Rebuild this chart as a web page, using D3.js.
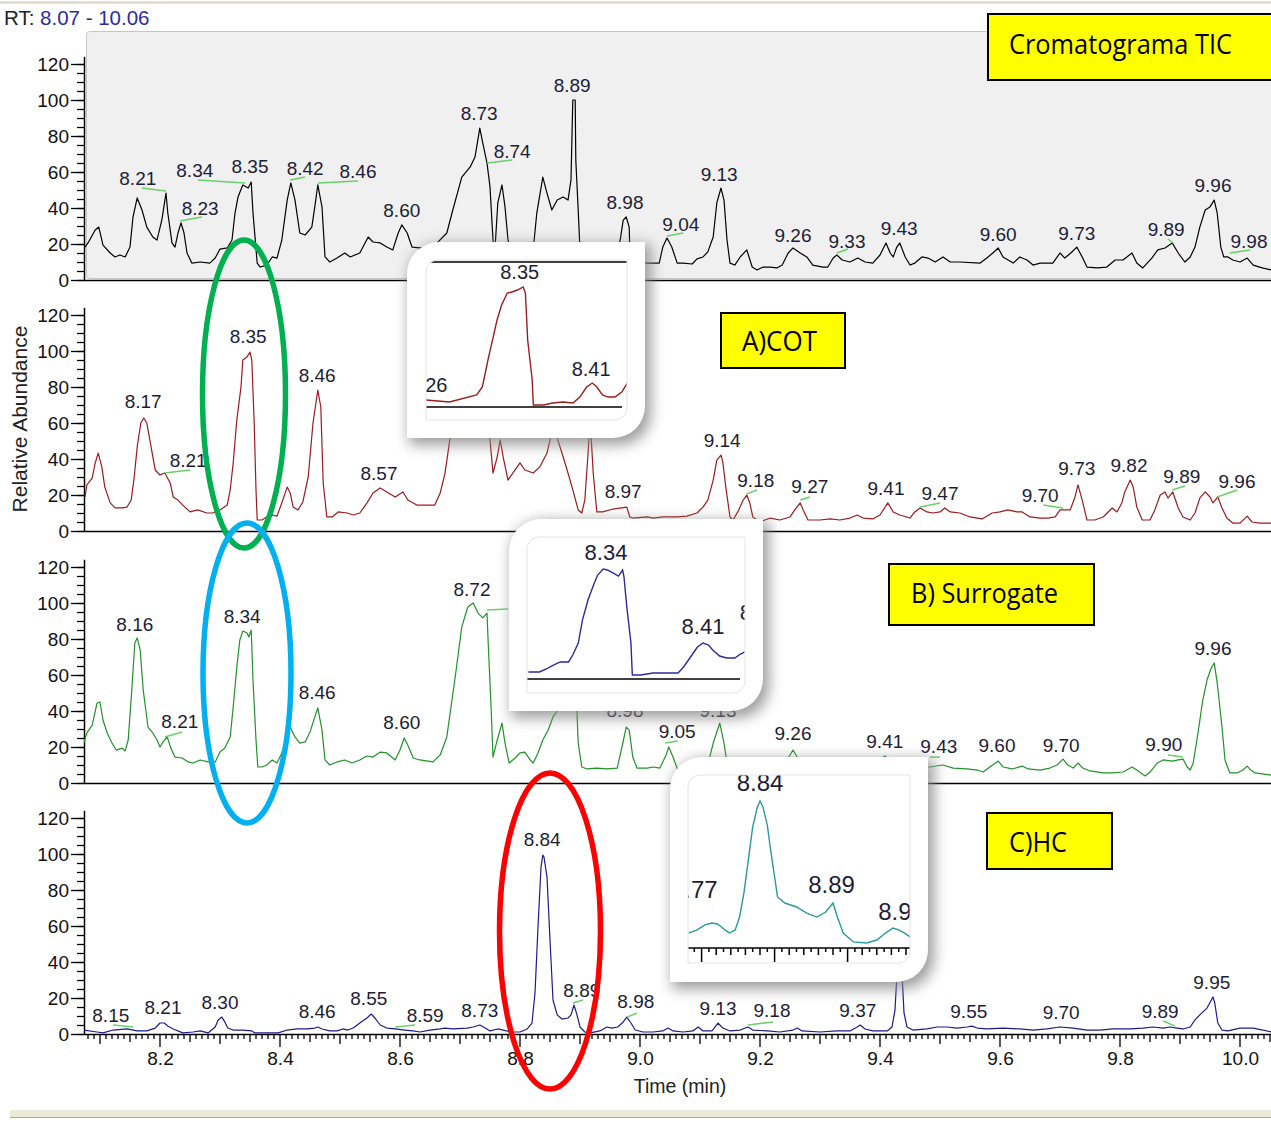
<!DOCTYPE html>
<html>
<head>
<meta charset="utf-8">
<script src="https://cdn.jsdelivr.net/npm/d3@7"></script>
<style>
  body { margin: 0; background: #fff; }
  svg { display: block; }
  text { font-family: "Liberation Sans", Arial, sans-serif; }
  .box-text { font-family: "Open Sans", "Noto Sans", sans-serif; }
</style>
</head>
<body>
<div id="chart"></div>
<script>
// ---------- data: [time (min), relative abundance] ----------
var ticTrace = [[8.075,18.3],[8.080,20.6],[8.092,27.8],[8.098,29.4],[8.105,19.4],[8.117,15.0],[8.125,12.8],[8.133,13.9],[8.142,12.8],[8.150,18.3],[8.155,35.0],[8.162,45.6],[8.170,38.9],[8.178,29.4],[8.188,23.9],[8.195,22.2],[8.203,33.3],[8.210,48.3],[8.213,37.2],[8.220,20.6],[8.225,18.3],[8.230,26.1],[8.235,31.7],[8.240,26.1],[8.245,15.0],[8.253,9.4],[8.267,10.0],[8.283,9.4],[8.292,12.2],[8.300,17.2],[8.312,17.8],[8.320,22.2],[8.325,37.2],[8.330,46.1],[8.338,52.8],[8.347,51.1],[8.352,54.4],[8.355,37.2],[8.362,9.4],[8.367,7.2],[8.378,8.3],[8.387,12.8],[8.395,12.2],[8.403,22.2],[8.412,44.4],[8.418,53.9],[8.425,44.4],[8.433,26.1],[8.442,25.0],[8.453,29.4],[8.458,40.6],[8.463,52.8],[8.470,40.6],[8.475,12.8],[8.483,10.0],[8.495,12.2],[8.508,15.0],[8.517,12.8],[8.533,15.0],[8.547,23.9],[8.555,21.1],[8.567,20.6],[8.578,18.3],[8.588,16.7],[8.597,26.1],[8.603,30.6],[8.612,26.1],[8.620,18.3],[8.633,17.8],[8.655,18.3],[8.678,26.1],[8.688,38.9],[8.703,57.2],[8.717,62.8],[8.725,68.3],[8.733,84.4],[8.738,76.1],[8.745,65.0],[8.750,51.7],[8.755,22.2],[8.758,15.5],[8.763,42.8],[8.770,52.8],[8.775,40.6],[8.780,22.2],[8.788,14.0],[8.808,12.0],[8.822,16.7],[8.828,37.2],[8.838,57.2],[8.845,48.3],[8.853,38.9],[8.862,44.4],[8.872,46.1],[8.880,44.4],[8.885,55.6],[8.888,100],[8.892,100],[8.893,66.7],[8.897,38.9],[8.900,16.7],[8.917,12.0],[8.942,10.0],[8.958,14.0],[8.967,22.2],[8.972,33.3],[8.977,35.0],[8.982,29.4],[8.983,16.7],[8.995,10.0],[9.012,9.4],[9.032,9.4],[9.038,18.3],[9.045,23.3],[9.053,18.3],[9.062,9.4],[9.072,9.4],[9.087,8.9],[9.095,11.7],[9.105,12.8],[9.113,15.6],[9.122,23.9],[9.128,42.8],[9.135,51.1],[9.140,44.4],[9.145,22.2],[9.150,9.4],[9.158,8.3],[9.167,12.8],[9.178,16.7],[9.187,7.2],[9.195,5.6],[9.205,7.2],[9.217,7.2],[9.228,6.7],[9.237,8.3],[9.247,15.0],[9.255,17.8],[9.267,15.0],[9.278,12.8],[9.288,8.3],[9.305,7.2],[9.313,7.2],[9.322,12.2],[9.328,13.9],[9.337,11.1],[9.350,10.0],[9.363,12.2],[9.375,10.0],[9.388,9.4],[9.400,13.9],[9.410,20.6],[9.417,15.0],[9.422,12.8],[9.428,18.3],[9.433,20.6],[9.442,12.8],[9.450,8.3],[9.458,9.4],[9.470,12.8],[9.480,12.2],[9.492,10.0],[9.505,12.8],[9.517,10.0],[9.533,10.0],[9.567,9.4],[9.578,12.2],[9.588,15.0],[9.597,17.8],[9.605,12.8],[9.622,9.4],[9.633,12.8],[9.645,11.1],[9.655,8.3],[9.667,9.4],[9.688,9.4],[9.700,15.0],[9.708,12.2],[9.718,15.0],[9.728,18.3],[9.737,12.8],[9.745,7.2],[9.762,6.7],[9.778,7.2],[9.792,11.1],[9.805,11.1],[9.820,15.0],[9.828,9.4],[9.838,6.7],[9.853,12.2],[9.863,16.7],[9.875,17.8],[9.887,20.6],[9.897,15.0],[9.908,10.0],[9.917,12.8],[9.925,18.3],[9.933,29.4],[9.942,38.9],[9.950,40.6],[9.957,44.4],[9.962,37.2],[9.968,18.3],[9.973,12.8],[9.980,12.8],[9.988,11.1],[10.000,10.0],[10.012,12.2],[10.022,8.3],[10.037,6.7],[10.052,5.6]];

var cotTrace = [[8.075,18.9],[8.078,25.6],[8.087,29.4],[8.092,37.8],[8.097,43.3],[8.103,35.6],[8.108,24.4],[8.117,15.6],[8.125,12.8],[8.137,12.8],[8.145,13.3],[8.152,17.2],[8.157,30.0],[8.162,46.7],[8.168,60.0],[8.173,62.8],[8.178,60.0],[8.183,50.6],[8.192,33.9],[8.200,31.1],[8.208,32.2],[8.217,26.7],[8.222,18.9],[8.230,17.2],[8.238,14.4],[8.250,10.6],[8.263,11.7],[8.278,10.0],[8.288,10.0],[8.300,11.7],[8.312,14.4],[8.317,22.8],[8.322,37.8],[8.328,61.7],[8.335,80.0],[8.338,95.0],[8.345,96.7],[8.350,99.4],[8.353,95.0],[8.357,60.0],[8.360,22.8],[8.362,6.1],[8.370,6.1],[8.378,7.8],[8.387,8.9],[8.395,8.3],[8.403,15.6],[8.412,24.4],[8.417,21.1],[8.422,13.3],[8.430,11.7],[8.438,16.1],[8.447,30.0],[8.455,60.0],[8.463,78.3],[8.468,68.9],[8.472,26.7],[8.478,7.8],[8.487,7.8],[8.497,10.6],[8.512,10.0],[8.522,8.9],[8.533,10.0],[8.545,15.6],[8.555,21.1],[8.567,23.9],[8.578,21.7],[8.592,18.9],[8.605,21.7],[8.613,17.2],[8.628,14.4],[8.658,14.4],[8.667,21.1],[8.675,32.2],[8.683,50.6],[8.700,72.8],[8.717,78.0],[8.733,73.0],[8.750,50.6],[8.755,32.2],[8.762,41.1],[8.767,50.6],[8.772,41.1],[8.780,28.3],[8.788,32.2],[8.800,37.8],[8.808,33.9],[8.822,32.2],[8.833,35.6],[8.845,43.3],[8.850,50.6],[8.857,61.7],[8.863,50.6],[8.872,41.1],[8.880,32.2],[8.888,22.8],[8.897,11.7],[8.903,10.0],[8.908,17.2],[8.913,41.1],[8.917,61.7],[8.922,32.2],[8.928,10.6],[8.938,10.6],[8.955,12.2],[8.978,13.3],[8.983,7.8],[8.988,7.2],[9.012,7.8],[9.022,7.2],[9.038,7.8],[9.062,7.8],[9.078,8.3],[9.095,10.0],[9.105,13.3],[9.113,17.2],[9.122,28.3],[9.128,39.4],[9.135,42.2],[9.138,38.3],[9.143,24.4],[9.150,7.8],[9.155,6.1],[9.163,10.6],[9.172,17.2],[9.178,20.0],[9.183,15.6],[9.188,7.8],[9.200,5.0],[9.217,7.2],[9.233,6.1],[9.250,7.8],[9.258,11.7],[9.267,15.6],[9.272,11.7],[9.280,6.1],[9.300,6.1],[9.317,6.7],[9.333,6.1],[9.350,7.2],[9.362,8.9],[9.372,7.2],[9.388,6.7],[9.400,8.9],[9.413,15.6],[9.422,10.6],[9.433,8.9],[9.450,7.2],[9.458,10.6],[9.467,12.8],[9.478,10.6],[9.488,10.0],[9.500,10.6],[9.508,12.8],[9.517,10.6],[9.533,10.0],[9.550,7.8],[9.570,6.7],[9.587,10.0],[9.600,10.6],[9.613,11.7],[9.628,10.6],[9.637,10.6],[9.650,7.8],[9.667,7.2],[9.680,7.2],[9.692,7.8],[9.700,11.7],[9.717,11.7],[9.725,18.9],[9.730,25.6],[9.737,17.2],[9.745,6.1],[9.758,6.1],[9.772,7.8],[9.787,12.8],[9.795,10.6],[9.803,15.6],[9.808,21.7],[9.817,28.3],[9.822,24.4],[9.828,13.3],[9.837,6.1],[9.850,6.1],[9.858,11.7],[9.867,20.0],[9.875,21.7],[9.880,18.3],[9.888,21.7],[9.897,12.8],[9.905,7.8],[9.917,6.1],[9.925,10.0],[9.933,18.3],[9.942,21.7],[9.950,18.9],[9.955,15.6],[9.963,18.9],[9.970,12.8],[9.978,7.2],[9.988,4.4],[10.000,4.4],[10.012,8.3],[10.020,5.0],[10.033,4.4],[10.052,4.4]];

var surrogateTrace = [[8.073,22.2],[8.078,27.8],[8.087,32.2],[8.095,44.4],[8.100,45.0],[8.105,35.0],[8.112,27.8],[8.120,22.2],[8.127,18.3],[8.137,19.4],[8.142,17.8],[8.147,23.9],[8.153,51.7],[8.158,77.8],[8.162,80.6],[8.167,73.9],[8.172,51.7],[8.180,31.1],[8.188,27.8],[8.195,23.9],[8.200,20.0],[8.205,22.8],[8.212,25.6],[8.218,19.4],[8.225,14.4],[8.237,13.9],[8.247,11.7],[8.255,11.1],[8.267,12.8],[8.280,11.7],[8.292,11.7],[8.300,17.2],[8.308,19.4],[8.317,25.6],[8.322,42.2],[8.328,64.4],[8.333,79.4],[8.338,84.4],[8.345,83.3],[8.348,81.1],[8.352,85.0],[8.355,57.2],[8.360,23.9],[8.363,8.9],[8.370,8.9],[8.378,10.0],[8.387,12.8],[8.395,11.1],[8.403,16.7],[8.412,25.6],[8.417,31.1],[8.425,25.6],[8.433,22.2],[8.442,22.8],[8.450,28.3],[8.458,36.7],[8.463,41.7],[8.470,29.4],[8.475,12.8],[8.483,10.0],[8.495,11.7],[8.508,12.8],[8.520,11.1],[8.533,12.8],[8.545,15.0],[8.555,14.4],[8.567,17.2],[8.578,16.7],[8.592,12.8],[8.600,18.3],[8.607,25.0],[8.613,21.1],[8.622,13.9],[8.633,12.8],[8.655,11.7],[8.667,15.6],[8.678,25.6],[8.692,58.9],[8.703,86.7],[8.713,97.8],[8.722,100],[8.730,94.4],[8.738,91.7],[8.745,94.4],[8.747,77.8],[8.752,40.6],[8.755,14.4],[8.762,23.9],[8.770,33.3],[8.775,22.2],[8.782,11.1],[8.792,13.9],[8.800,16.7],[8.808,17.2],[8.817,12.8],[8.822,11.1],[8.830,16.7],[8.838,23.9],[8.847,29.4],[8.855,36.7],[8.867,42.2],[8.880,48.9],[8.890,46.1],[8.895,38.9],[8.897,22.2],[8.903,8.9],[8.912,7.8],[8.928,8.3],[8.945,7.8],[8.962,8.3],[8.970,20.0],[8.977,31.1],[8.982,29.4],[8.988,14.4],[8.995,8.3],[9.012,8.3],[9.022,8.9],[9.033,8.3],[9.042,14.4],[9.048,20.0],[9.055,14.4],[9.063,7.2],[9.072,7.2],[9.100,8.3],[9.113,10.0],[9.122,22.2],[9.133,33.3],[9.140,22.2],[9.145,11.1],[9.167,8.3],[9.200,7.2],[9.233,9.4],[9.247,13.9],[9.255,18.3],[9.263,13.9],[9.283,9.4],[9.333,8.3],[9.383,9.4],[9.408,15.0],[9.425,10.0],[9.450,8.3],[9.483,8.9],[9.505,10.0],[9.522,8.3],[9.545,7.8],[9.562,7.2],[9.572,6.1],[9.583,8.9],[9.597,12.2],[9.605,8.9],[9.620,7.8],[9.637,9.4],[9.647,7.8],[9.667,7.2],[9.683,8.3],[9.695,10.0],[9.705,13.3],[9.713,10.0],[9.722,8.3],[9.730,11.1],[9.738,8.3],[9.750,6.7],[9.772,5.6],[9.788,5.6],[9.805,6.1],[9.820,8.9],[9.828,7.2],[9.842,3.9],[9.850,6.1],[9.862,11.1],[9.872,12.8],[9.887,12.2],[9.897,12.8],[9.905,13.3],[9.912,8.9],[9.917,7.2],[9.922,11.1],[9.930,27.8],[9.938,46.1],[9.945,57.2],[9.952,63.9],[9.957,66.7],[9.962,55.6],[9.970,31.1],[9.975,12.8],[9.983,5.6],[9.995,5.6],[10.005,7.2],[10.012,9.4],[10.018,7.2],[10.025,5.6],[10.052,4.4]];

var hcTrace = [[8.073,2.2],[8.095,1.1],[8.105,0.6],[8.122,2.2],[8.145,2.8],[8.162,1.7],[8.178,1.7],[8.192,3.3],[8.200,6.1],[8.207,6.1],[8.213,4.4],[8.222,2.8],[8.238,0.6],[8.255,1.1],[8.267,1.7],[8.280,0.6],[8.292,3.9],[8.297,7.8],[8.303,9.4],[8.308,6.7],[8.313,3.3],[8.322,2.2],[8.338,2.2],[8.353,1.7],[8.358,0.6],[8.378,0.6],[8.397,0.6],[8.412,2.2],[8.428,2.8],[8.445,2.8],[8.458,3.3],[8.463,3.9],[8.470,2.8],[8.483,1.7],[8.495,1.7],[8.505,2.8],[8.513,2.2],[8.522,3.3],[8.533,6.1],[8.545,8.9],[8.552,11.1],[8.558,8.9],[8.567,5.0],[8.578,3.3],[8.592,2.8],[8.608,2.2],[8.622,1.7],[8.633,1.1],[8.650,2.2],[8.667,2.8],[8.675,3.3],[8.688,2.8],[8.712,3.3],[8.722,3.9],[8.733,5.0],[8.742,3.3],[8.750,1.7],[8.763,2.8],[8.772,2.2],[8.787,1.1],[8.800,1.1],[8.812,2.8],[8.820,6.1],[8.825,22.8],[8.830,59.4],[8.835,92.8],[8.838,99.4],[8.840,98.3],[8.845,87.2],[8.850,52.2],[8.855,18.9],[8.862,10.6],[8.870,8.3],[8.880,8.9],[8.885,10.6],[8.890,16.1],[8.895,10.6],[8.900,3.9],[8.908,1.1],[8.917,0.6],[8.933,1.7],[8.945,3.9],[8.953,3.3],[8.963,3.9],[8.972,6.7],[8.978,9.4],[8.985,6.1],[8.992,2.2],[9.005,1.1],[9.022,1.1],[9.038,1.7],[9.047,3.3],[9.055,1.7],[9.072,1.1],[9.088,1.7],[9.097,3.9],[9.105,1.7],[9.120,1.7],[9.130,6.1],[9.138,3.3],[9.150,1.7],[9.167,2.2],[9.180,3.9],[9.188,2.2],[9.212,1.7],[9.233,1.1],[9.255,2.2],[9.262,3.3],[9.270,1.7],[9.300,1.1],[9.328,1.7],[9.350,1.7],[9.362,3.9],[9.367,5.0],[9.375,2.8],[9.388,1.7],[9.412,1.7],[9.420,3.9],[9.425,13.3],[9.428,31.7],[9.432,38.0],[9.435,38.0],[9.437,31.7],[9.440,11.7],[9.445,3.9],[9.455,2.2],[9.478,2.8],[9.495,3.9],[9.512,3.9],[9.528,3.3],[9.545,3.9],[9.553,4.4],[9.562,3.3],[9.578,2.8],[9.605,3.3],[9.633,2.8],[9.655,2.2],[9.678,2.8],[9.700,3.9],[9.722,3.3],[9.745,2.2],[9.767,2.2],[9.788,2.8],[9.817,2.8],[9.838,3.3],[9.855,3.9],[9.872,3.3],[9.883,3.9],[9.895,3.3],[9.905,2.8],[9.917,3.9],[9.925,7.8],[9.933,10.6],[9.945,14.4],[9.955,20.6],[9.958,17.2],[9.963,6.1],[9.970,2.2],[9.980,1.7],[10.000,3.3],[10.022,3.3],[10.038,2.2],[10.052,1.1]];

// zoomed inset traces
var cotZoomTrace = [[8.265,6.0],[8.286,4.3],[8.310,10.3],[8.315,17.1],[8.320,40.2],[8.328,74.4],[8.332,87.2],[8.337,97.4],[8.341,98.3],[8.346,100],[8.351,102.6],[8.353,97.4],[8.355,57.3],[8.359,23.1],[8.360,1.7],[8.369,1.7],[8.377,3.4],[8.386,4.3],[8.395,3.4],[8.401,8.5],[8.407,17.1],[8.412,20.5],[8.416,17.1],[8.421,10.3],[8.426,8.5],[8.432,8.5],[8.438,12.8],[8.443,20.5]];
var surrogateZoomTrace = [[8.284,6.4],[8.292,6.4],[8.297,9.1],[8.302,12.7],[8.307,15.5],[8.313,15.5],[8.316,21.8],[8.320,32.7],[8.323,53.6],[8.327,71.8],[8.331,85.5],[8.334,94.5],[8.338,100],[8.341,99.1],[8.345,96.4],[8.349,93.6],[8.352,99.1],[8.353,92.7],[8.355,65.5],[8.358,32.7],[8.359,3.6],[8.365,3.6],[8.374,5.5],[8.384,5.5],[8.392,5.5],[8.396,10.9],[8.401,20.0],[8.406,29.1],[8.410,32.7],[8.414,30.9],[8.417,26.4],[8.422,20.9],[8.427,19.1],[8.433,19.1],[8.437,22.7],[8.440,24.5]];
var hcZoomTrace = [[8.791,10.1],[8.797,12.2],[8.802,15.5],[8.807,16.9],[8.811,16.2],[8.816,12.2],[8.819,10.1],[8.823,12.2],[8.826,20.9],[8.829,37.2],[8.832,59.5],[8.835,81.8],[8.838,94.6],[8.840,99.3],[8.842,95.3],[8.845,83.1],[8.847,68.2],[8.850,48.0],[8.852,34.5],[8.857,30.4],[8.865,27.7],[8.872,23.6],[8.879,20.9],[8.885,24.3],[8.890,30.4],[8.893,20.9],[8.897,10.1],[8.904,4.1],[8.913,3.4],[8.920,5.4],[8.926,10.1],[8.931,13.5],[8.935,12.2],[8.939,10.1],[8.943,7.4]];

// peak labels: [text, time, abundance of text baseline]
var ticLabels = [["8.21",8.163,52.8],["8.34",8.258,57.2],["8.35",8.350,59.4],["8.42",8.442,58.3],["8.46",8.530,56.7],["8.23",8.267,36.1],["8.60",8.603,35.0],["8.73",8.732,88.9],["8.74",8.787,67.8],["8.89",8.887,104.4],["8.98",8.975,39.4],["9.04",9.068,27.2],["9.13",9.132,55.0],["9.26",9.255,21.1],["9.33",9.345,17.8],["9.43",9.432,25.0],["9.60",9.597,21.7],["9.73",9.728,22.2],["9.89",9.877,24.4],["9.96",9.955,48.9],["9.98",10.015,17.8]];
var cotLabels = [["8.17",8.172,68.3],["8.21",8.247,35.6],["8.35",8.347,104.4],["8.46",8.462,82.8],["8.57",8.565,28.3],["9.14",9.137,46.7],["8.97",8.972,18.3],["9.18",9.193,24.4],["9.27",9.283,21.1],["9.41",9.410,20.0],["9.47",9.500,17.2],["9.70",9.667,16.1],["9.73",9.728,31.1],["9.82",9.815,32.8],["9.89",9.903,26.7],["9.96",9.995,23.9]];
var surrogateLabels = [["8.16",8.158,84.4],["8.34",8.337,88.9],["8.21",8.233,30.6],["8.46",8.462,46.7],["8.60",8.603,30.0],["8.72",8.720,103.9],["8.74",8.813,100],["8.98",8.975,36.7],["9.13",9.130,36.7],["9.05",9.062,25.0],["9.26",9.255,23.9],["9.41",9.408,19.4],["9.43",9.498,16.7],["9.60",9.595,17.2],["9.70",9.702,17.2],["9.90",9.873,17.8],["9.96",9.955,71.1]];
var hcLabels = [["8.15",8.118,6.7],["8.21",8.205,11.1],["8.30",8.300,13.9],["8.46",8.462,8.9],["8.55",8.548,16.1],["8.59",8.642,6.7],["8.73",8.733,9.4],["8.84",8.837,104.4],["8.89",8.903,20.6],["8.98",8.993,14.4],["9.13",9.130,10.6],["9.18",9.220,9.4],["9.37",9.363,9.4],["9.55",9.548,8.9],["9.70",9.702,8.3],["9.89",9.867,8.9],["9.95",9.953,25.0]];

// green leader marks: [t1, v1, t2, v2]
var ticMarks = [[8.170,51.1,8.210,49.4],[8.263,55.6,8.342,53.9],[8.417,55.6,8.442,57.2],[8.463,53.9,8.530,55.0],[8.233,32.8,8.270,35.0],[8.745,65.0,8.787,66.7],[9.045,24.4,9.072,26.1],[9.328,15.0,9.347,17.2],[9.880,22.8,9.888,20.6],[9.983,15.0,10.017,16.7]];
var cotMarks = [[8.208,32.2,8.250,33.9],[9.178,20.6,9.195,22.8],[9.267,17.2,9.283,18.9],[9.467,13.3,9.500,15.6],[9.672,14.4,9.705,12.8],[9.887,22.8,9.908,25.0],[9.962,18.9,9.995,22.8]];
var surrogateMarks = [[8.208,25.6,8.237,28.3],[8.745,96.1,8.780,96.7],[9.042,22.2,9.063,23.3],[9.483,14.4,9.500,14.4],[9.880,15.6,9.905,14.4]];
var hcMarks = [[8.122,5.0,8.155,3.9],[8.592,3.9,8.625,5.0],[8.888,17.2,8.905,18.9],[8.978,9.4,8.995,11.7],[9.180,5.0,9.222,6.7],[9.872,7.2,9.892,4.4]];

// inset labels
var cotZoomLabels = [["8.35",8.348,109.4],["8.26",8.267,12.8],["8.41",8.411,26.5]];
var surrogateZoomLabels = [["8.34",8.340,108],["8.41",8.410,40.9],["8.45",8.452,53.6]];
var hcZoomLabels = [["8.84",8.840,106],["8.77",8.795,33.8],["8.89",8.889,37.2],["8.93",8.937,18.9]];

var yTickValues = [0, 20, 40, 60, 80, 100, 120];
var xTickValues = [8.2, 8.4, 8.6, 8.8, 9.0, 9.2, 9.4, 9.6, 9.8, 10.0];
var boxTitles = ["Cromatograma TIC", "A)COT", "B) Surrogate", "C)HC"];
var highlightPeaks = [8.34, 8.345, 8.85];

// ---------- layout ----------
var svgWidth = 1271;
var svgHeight = 1122;
var axisX = 84;
var rightEdge = 1271;
var panelBase = [280, 531, 783, 1034];
var panelColors = ["#000000", "#9b1c1c", "#22922a", "#1c1c8c"];
var labelColor = "#1d1d36";
var markColor = "#6bcf6b";

var svg = d3.select("#chart")
  .append("svg")
  .attr("width", svgWidth)
  .attr("height", svgHeight);

var defs = svg.append("defs");
defs.append("clipPath").attr("id", "plotClip")
  .append("rect").attr("x", axisX).attr("y", 0).attr("width", rightEdge - axisX).attr("height", svgHeight);
var blur = defs.append("filter").attr("id", "softShadow")
  .attr("x", "-20%").attr("y", "-20%").attr("width", "140%").attr("height", "140%");
blur.append("feGaussianBlur").attr("stdDeviation", 7);

var xScale = d3.scaleLinear().domain([8.07, 10.06]).range([82, 1276]);

function yScaleFor(i) {
  return d3.scaleLinear().domain([0, 120]).range([panelBase[i], panelBase[i] - 216]);
}

// window chrome lines
svg.append("line").attr("x1", 0).attr("x2", svgWidth).attr("y1", 2.5).attr("y2", 2.5)
  .attr("stroke", "#d6d2c4").attr("stroke-width", 2);
svg.append("rect").attr("x", 10).attr("y", 1110).attr("width", svgWidth - 10).attr("height", 7)
  .attr("fill", "#ece9d8");
svg.append("line").attr("x1", 10).attr("x2", svgWidth).attr("y1", 1117.5).attr("y2", 1117.5)
  .attr("stroke", "#a8a8a0").attr("stroke-width", 1);

// RT range header
var rt = svg.append("text").attr("x", 4).attr("y", 25).attr("font-size", 20.5);
rt.append("tspan").attr("fill", "#222").text("RT: ");
rt.append("tspan").attr("fill", "#2d2d9a").text("8.07 - 10.06");

// selected (TIC) panel background
svg.append("rect")
  .attr("x", 86.5).attr("y", 31.5).attr("width", 1200).attr("height", 247)
  .attr("rx", 3)
  .attr("fill", "#f0f0f0").attr("stroke", "#c6c6c6");

// ---------- panels ----------
var panels = [
  { trace: ticTrace, labels: ticLabels, marks: ticMarks },
  { trace: cotTrace, labels: cotLabels, marks: cotMarks },
  { trace: surrogateTrace, labels: surrogateLabels, marks: surrogateMarks },
  { trace: hcTrace, labels: hcLabels, marks: hcMarks }
];

panels.forEach(function(p, i) {
  var y = yScaleFor(i);
  var g = svg.append("g");

  // baseline across the panel
  g.append("line")
    .attr("x1", axisX).attr("x2", rightEdge)
    .attr("y1", y(0) + 0.5).attr("y2", y(0) + 0.5)
    .attr("stroke", "#000").attr("stroke-width", 1.3);

  // minor y ticks
  var minor = d3.axisLeft(y).tickValues(d3.range(0, 125, 5)).tickSize(7).tickFormat("");
  g.append("g").attr("transform", `translate(${axisX},0)`).call(minor)
    .call(a => a.select(".domain").remove())
    .call(a => a.selectAll("line").attr("stroke", "#000").attr("stroke-width", 1.3));

  // major y ticks with labels
  var major = d3.axisLeft(y).tickValues(yTickValues).tickSize(13).tickPadding(2).tickFormat(d3.format("d"));
  g.append("g").attr("transform", `translate(${axisX},0)`).call(major)
    .call(a => a.select(".domain").remove())
    .call(a => a.selectAll("line").attr("stroke", "#000").attr("stroke-width", 1.3))
    .call(a => a.selectAll("text").attr("font-size", 19).attr("fill", "#111")
      .attr("font-family", "Liberation Sans, Arial, sans-serif"));

  g.append("line")
    .attr("x1", axisX + 0.5).attr("x2", axisX + 0.5)
    .attr("y1", y(124)).attr("y2", y(0) + 1)
    .attr("stroke", "#000").attr("stroke-width", 1.5);

  // trace
  var line = d3.line().x(d => xScale(d[0])).y(d => y(d[1]));
  g.append("path")
    .datum(p.trace)
    .attr("clip-path", "url(#plotClip)")
    .attr("fill", "none")
    .attr("stroke", panelColors[i])
    .attr("stroke-width", 1.2)
    .attr("stroke-linejoin", "round")
    .attr("d", line);

  // leader marks
  g.selectAll(".mark").data(p.marks).enter().append("line")
    .attr("x1", d => xScale(d[0])).attr("y1", d => y(d[1]))
    .attr("x2", d => xScale(d[2])).attr("y2", d => y(d[3]))
    .attr("stroke", markColor).attr("stroke-width", 1.5);

  // peak labels
  g.selectAll(".peak").data(p.labels).enter().append("text")
    .attr("x", d => xScale(d[1]))
    .attr("y", d => y(d[2]))
    .attr("text-anchor", "middle")
    .attr("font-size", 19)
    .attr("fill", labelColor)
    .text(d => d[0]);
});

// y axis title
svg.append("text")
  .attr("transform", "translate(27, 419) rotate(-90)")
  .attr("text-anchor", "middle")
  .attr("font-size", 21)
  .attr("fill", "#222")
  .text("Relative Abundance");

// ---------- x axis ----------
var xBase = panelBase[3];
var minorTimes = d3.range(808, 1006).map(d => d / 100);
svg.append("g").selectAll("line").data(minorTimes).enter().append("line")
  .attr("x1", d => xScale(d)).attr("x2", d => xScale(d))
  .attr("y1", xBase)
  .attr("y2", function(d) {
    var k = Math.round(d * 100);
    if (k % 20 === 0) return xBase + 13;
    if (k % 10 === 0) return xBase + 10;
    if (k % 5 === 0) return xBase + 8;
    return xBase + 5;
  })
  .attr("stroke", "#000").attr("stroke-width", 1.3);

var bottomAxis = d3.axisBottom(xScale).tickValues(xTickValues).tickSize(0).tickPadding(18)
  .tickFormat(d3.format(".1f"));
svg.append("g").attr("transform", `translate(0,${xBase})`).call(bottomAxis)
  .call(a => a.select(".domain").remove())
  .call(a => a.selectAll("text").attr("font-size", 19).attr("fill", "#111")
    .attr("font-family", "Liberation Sans, Arial, sans-serif"));

svg.append("text")
  .attr("x", 680).attr("y", 1093)
  .attr("text-anchor", "middle")
  .attr("font-size", 19.5)
  .attr("fill", "#222")
  .text("Time (min)");

// ---------- highlight ellipses ----------
var ellipseSpecs = [
  { t: highlightPeaks[0], cy: 394, rx: 41.5, ry: 154, color: "#00b050" },
  { t: highlightPeaks[1], cy: 673, rx: 44, ry: 150, color: "#00b0f0" },
  { t: highlightPeaks[2], cy: 931, rx: 50.5, ry: 158, color: "#ff0000" }
];
svg.selectAll(".hl").data(ellipseSpecs).enter().append("ellipse")
  .attr("cx", d => xScale(d.t))
  .attr("cy", d => d.cy)
  .attr("rx", d => d.rx).attr("ry", d => d.ry)
  .attr("fill", "none")
  .attr("stroke", d => d.color)
  .attr("stroke-width", 5.5);

// ---------- zoomed insets ----------
function diagonalRound(x0, y0, x1, y1, r) {
  return `M${x0},${y0 + r} A${r},${r} 0 0 1 ${x0 + r},${y0} L${x1},${y0} L${x1},${y1 - r} ` +
    `A${r},${r} 0 0 1 ${x1 - r},${y1} L${x0},${y1} Z`;
}

function drawInset(id, frame, inner, xs, ys, trace, labels, color, fontSize, extra) {
  var g = svg.append("g");
  g.append("path")
    .attr("d", diagonalRound(frame[0] + 2, frame[1] + 2, frame[2] + 6, frame[3] + 7, 32))
    .attr("fill", "#858585").attr("opacity", 0.8)
    .attr("filter", "url(#softShadow)");
  g.append("path")
    .attr("d", diagonalRound(frame[0], frame[1], frame[2], frame[3], 32))
    .attr("fill", "#fff");

  defs.append("clipPath").attr("id", id)
    .append("path").attr("d", diagonalRound(inner[0], inner[1], inner[2], inner[3], 12));
  var c = g.append("g").attr("clip-path", `url(#${id})`);
  c.append("rect").attr("x", inner[0]).attr("y", inner[1])
    .attr("width", inner[2] - inner[0]).attr("height", inner[3] - inner[1]).attr("fill", "#fff");
  if (extra) extra(c);
  c.append("path")
    .datum(trace)
    .attr("fill", "none").attr("stroke", color).attr("stroke-width", 1.4)
    .attr("d", d3.line().x(d => xs(d[0])).y(d => ys(d[1])));
  c.selectAll(".il").data(labels).enter().append("text")
    .attr("x", d => xs(d[1])).attr("y", d => ys(d[2]))
    .attr("text-anchor", "middle")
    .attr("font-size", fontSize)
    .attr("fill", labelColor)
    .text(d => d[0]);
  g.append("path")
    .attr("d", diagonalRound(inner[0], inner[1], inner[2], inner[3], 12))
    .attr("fill", "none").attr("stroke", "#e4e4e4");
}

// A) COT zoom
var ix1 = d3.scaleLinear().domain([8.35, 8.41]).range([522, 590]);
var iy1 = d3.scaleLinear().domain([0, 100]).range([407, 290]);
drawInset("clipInset1", [407, 242, 645, 438], [426, 260, 627, 420], ix1, iy1,
  cotZoomTrace, cotZoomLabels, "#9b1c1c", 20, function(c) {
    c.append("line").attr("x1", 426).attr("x2", 627).attr("y1", 262).attr("y2", 262)
      .attr("stroke", "#000").attr("stroke-width", 1.5);
    c.append("line").attr("x1", 426).attr("x2", 622).attr("y1", iy1(0)).attr("y2", iy1(0))
      .attr("stroke", "#000").attr("stroke-width", 1.5);
  });

// B) Surrogate zoom
var ix2 = d3.scaleLinear().domain([8.34, 8.41]).range([606, 703]);
var iy2 = d3.scaleLinear().domain([0, 100]).range([679, 569]);
drawInset("clipInset2", [509, 519, 763, 711], [527, 537, 745, 693], ix2, iy2,
  surrogateZoomTrace, surrogateZoomLabels, "#2b2b9e", 22, function(c) {
    c.append("line").attr("x1", 527).attr("x2", 740).attr("y1", iy2(0)).attr("y2", iy2(0))
      .attr("stroke", "#000").attr("stroke-width", 1.5);
  });

// C) HC zoom
var ix3 = d3.scaleLinear().domain([8.84, 8.89]).range([760, 833]);
var iy3 = d3.scaleLinear().domain([0, 100]).range([948, 800]);
drawInset("clipInset3", [670, 757, 928, 982], [688, 775, 910, 963], ix3, iy3,
  hcZoomTrace, hcZoomLabels, "#2a9a9a", 24, function(c) {
    c.append("line").attr("x1", 688).attr("x2", 910).attr("y1", iy3(0)).attr("y2", iy3(0))
      .attr("stroke", "#000").attr("stroke-width", 1.5);
    var t = d3.range(8775, 8950, 5).map(d => d / 1000);
    c.selectAll(".it").data(t).enter().append("line")
      .attr("x1", d => ix3(d)).attr("x2", d => ix3(d))
      .attr("y1", iy3(0))
      .attr("y2", function(d) {
        var k = Math.round(d * 1000);
        if (k % 50 === 0) return iy3(0) + 14;
        if (k % 10 === 0) return iy3(0) + 7;
        return iy3(0) + 4;
      })
      .attr("stroke", "#000").attr("stroke-width", 1.5);
  });

// ---------- yellow title boxes ----------
var boxSpecs = [
  { x: 988, y: 14, w: 300, h: 66, tx: 1009, ty: 54, len: 223 },
  { x: 721, y: 313, w: 124, h: 55, tx: 742, ty: 351, len: 75 },
  { x: 889, y: 564, w: 205, h: 61, tx: 911, ty: 603, len: 147 },
  { x: 987, y: 813, w: 125, h: 56, tx: 1009, ty: 852, len: 58 }
];
boxSpecs.forEach(function(b, i) {
  svg.append("rect")
    .attr("x", b.x).attr("y", b.y).attr("width", b.w).attr("height", b.h)
    .attr("fill", "#ffff00").attr("stroke", "#000").attr("stroke-width", 2);
  svg.append("text")
    .attr("class", "box-text")
    .attr("x", b.tx).attr("y", b.ty)
    .attr("font-size", 27)
    .attr("textLength", b.len)
    .attr("lengthAdjust", "spacingAndGlyphs")
    .attr("fill", "#000")
    .text(boxTitles[i]);
});
</script>
</body>
</html>
